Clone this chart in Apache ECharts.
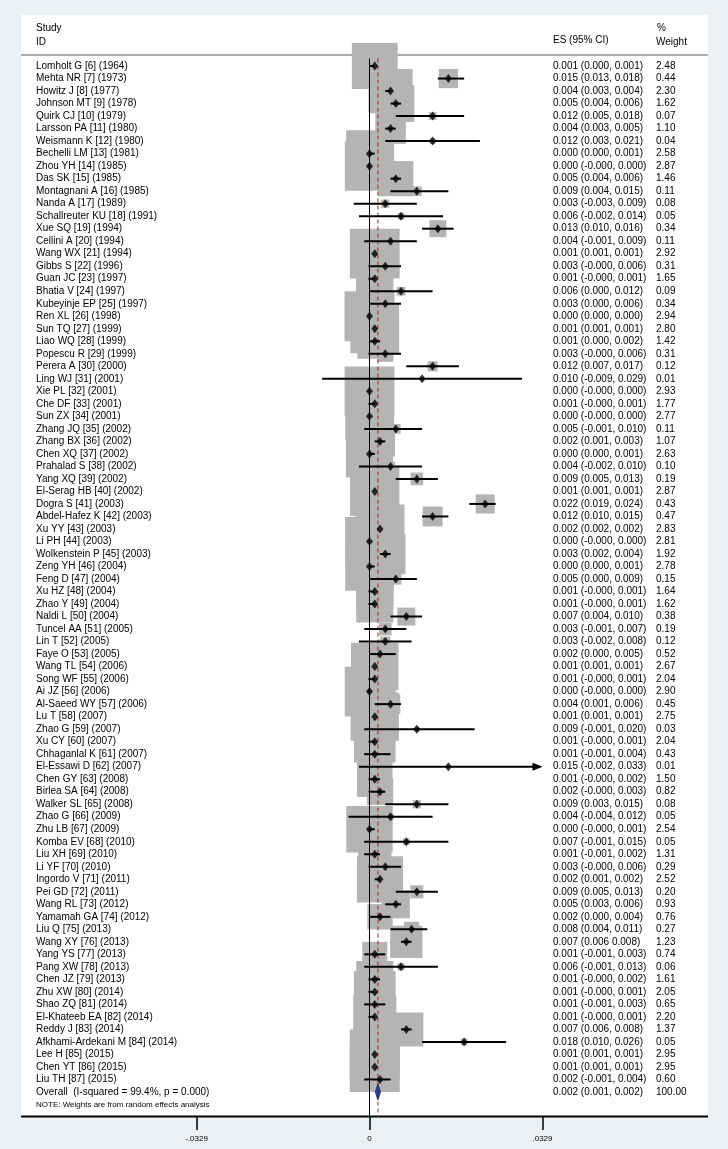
<!DOCTYPE html>
<html>
<head>
<meta charset="utf-8">
<title>Forest plot</title>
<script src="https://cdn.jsdelivr.net/npm/echarts@6/dist/echarts.min.js"></script>
<style>
  html, body { margin: 0; padding: 0; background: #eaf0f3; }
  #chart { width: 728px; height: 1149px; }
</style>
</head>
<body>
<div id="chart"></div>
<script>
const studies = [
  'Lomholt G [6] (1964)', 'Mehta NR [7] (1973)', 'Howitz J [8] (1977)', 'Johnson MT [9] (1978)',
  'Quirk CJ [10] (1979)', 'Larsson PA [11] (1980)', 'Weismann K [12] (1980)', 'Bechelli LM [13] (1981)',
  'Zhou YH [14] (1985)', 'Das SK [15] (1985)', 'Montagnani A [16] (1985)', 'Nanda A [17] (1989)',
  'Schallreuter KU [18] (1991)', 'Xue SQ [19] (1994)', 'Cellini A [20] (1994)', 'Wang WX [21] (1994)',
  'Gibbs S [22] (1996)', 'Guan JC [23] (1997)', 'Bhatia V [24] (1997)', 'Kubeyinje EP [25] (1997)',
  'Ren XL [26] (1998)', 'Sun TQ [27] (1999)', 'Liao WQ [28] (1999)', 'Popescu R [29] (1999)',
  'Perera A [30] (2000)', 'Ling WJ [31] (2001)', 'Xie PL [32] (2001)', 'Che DF [33] (2001)',
  'Sun ZX [34] (2001)', 'Zhang JQ [35] (2002)', 'Zhang BX [36] (2002)', 'Chen XQ [37] (2002)',
  'Prahalad S [38] (2002)', 'Yang XQ [39] (2002)', 'El-Serag HB [40] (2002)', 'Dogra S [41] (2003)',
  'Abdel-Hafez K [42] (2003)', 'Xu YY [43] (2003)', 'Li PH [44] (2003)', 'Wolkenstein P [45] (2003)',
  'Zeng YH [46] (2004)', 'Feng D [47] (2004)', 'Xu HZ [48] (2004)', 'Zhao Y [49] (2004)',
  'Naldi L [50] (2004)', 'Tuncel AA [51] (2005)', 'Lin T [52] (2005)', 'Faye O [53] (2005)',
  'Wang TL [54] (2006)', 'Song WF [55] (2006)', 'Ai JZ [56] (2006)', 'Al-Saeed WY [57] (2006)',
  'Lu T [58] (2007)', 'Zhao G [59] (2007)', 'Xu CY [60] (2007)', 'Chhaganlal K [61] (2007)',
  'El-Essawi D [62] (2007)', 'Chen GY [63] (2008)', 'Birlea SA [64] (2008)', 'Walker SL [65] (2008)',
  'Zhao G [66] (2009)', 'Zhu LB [67] (2009)', 'Komba EV [68] (2010)', 'Liu XH [69] (2010)',
  'Li YF [70] (2010)', 'Ingordo V [71] (2011)', 'Pei GD [72] (2011)', 'Wang RL [73] (2012)',
  'Yamamah GA [74] (2012)', 'Liu Q [75] (2013)', 'Wang XY [76] (2013)', 'Yang YS [77] (2013)',
  'Pang XW [78] (2013)', 'Chen JZ [79] (2013)', 'Zhu XW [80] (2014)', 'Shao ZQ [81] (2014)',
  'El-Khateeb EA [82] (2014)', 'Reddy J [83] (2014)', 'Afkhami-Ardekani M [84] (2014)', 'Lee H [85] (2015)',
  'Chen YT [86] (2015)', 'Liu TH [87] (2015)'
];

// effect size and 95% CI, as printed (-0.000 kept slightly below zero)
const es = [
  0.001, 0.015, 0.004, 0.005, 0.012, 0.004, 0.012, 0.000, 0.000, 0.005, 0.009, 0.003,
  0.006, 0.013, 0.004, 0.001, 0.003, 0.001, 0.006, 0.003, 0.000, 0.001, 0.001, 0.003,
  0.012, 0.010, 0.000, 0.001, 0.000, 0.005, 0.002, 0.000, 0.004, 0.009, 0.001, 0.022,
  0.012, 0.002, 0.000, 0.003, 0.000, 0.005, 0.001, 0.001, 0.007, 0.003, 0.003, 0.002,
  0.001, 0.001, 0.000, 0.004, 0.001, 0.009, 0.001, 0.001, 0.015, 0.001, 0.002, 0.009,
  0.004, 0.000, 0.007, 0.001, 0.003, 0.002, 0.009, 0.005, 0.002, 0.008, 0.007, 0.001,
  0.006, 0.001, 0.001, 0.001, 0.001, 0.007, 0.018, 0.001, 0.001, 0.002
];
const lo = [
  0.000, 0.013, 0.003, 0.004, 0.005, 0.003, 0.003, 0.000, -0.0002, 0.004, 0.004, -0.003,
  -0.002, 0.010, -0.001, 0.001, -0.0002, -0.0002, 0.000, 0.000, 0.000, 0.001, 0.000, -0.0002,
  0.007, -0.009, -0.0002, -0.0002, -0.0002, -0.001, 0.001, 0.000, -0.002, 0.005, 0.001, 0.019,
  0.010, 0.002, -0.0002, 0.002, 0.000, 0.000, -0.0002, -0.0002, 0.004, -0.001, -0.002, 0.000,
  0.001, -0.0002, -0.0002, 0.001, 0.001, -0.001, -0.0002, -0.001, -0.002, -0.0002, -0.0002, 0.003,
  -0.004, -0.0002, -0.001, -0.001, -0.0002, 0.001, 0.005, 0.003, 0.000, 0.004, 0.006, -0.001,
  -0.001, -0.0002, -0.0002, -0.001, -0.0002, 0.006, 0.010, 0.001, 0.001, -0.001
];
const hi = [
  0.001, 0.018, 0.004, 0.006, 0.018, 0.005, 0.021, 0.001, 0.000, 0.006, 0.015, 0.009,
  0.014, 0.016, 0.009, 0.001, 0.006, 0.001, 0.012, 0.006, 0.000, 0.001, 0.002, 0.006,
  0.017, 0.029, 0.000, 0.001, 0.000, 0.010, 0.003, 0.001, 0.010, 0.013, 0.001, 0.024,
  0.015, 0.002, 0.000, 0.004, 0.001, 0.009, 0.001, 0.001, 0.010, 0.007, 0.008, 0.005,
  0.001, 0.001, 0.000, 0.006, 0.001, 0.020, 0.001, 0.004, 0.033, 0.002, 0.003, 0.015,
  0.012, 0.001, 0.015, 0.002, 0.006, 0.002, 0.013, 0.006, 0.004, 0.011, 0.008, 0.003,
  0.013, 0.002, 0.001, 0.003, 0.001, 0.008, 0.026, 0.001, 0.001, 0.004
];
const ciText = [
  '0.001 (0.000, 0.001)', '0.015 (0.013, 0.018)', '0.004 (0.003, 0.004)', '0.005 (0.004, 0.006)',
  '0.012 (0.005, 0.018)', '0.004 (0.003, 0.005)', '0.012 (0.003, 0.021)', '0.000 (0.000, 0.001)',
  '0.000 (-0.000, 0.000)', '0.005 (0.004, 0.006)', '0.009 (0.004, 0.015)', '0.003 (-0.003, 0.009)',
  '0.006 (-0.002, 0.014)', '0.013 (0.010, 0.016)', '0.004 (-0.001, 0.009)', '0.001 (0.001, 0.001)',
  '0.003 (-0.000, 0.006)', '0.001 (-0.000, 0.001)', '0.006 (0.000, 0.012)', '0.003 (0.000, 0.006)',
  '0.000 (0.000, 0.000)', '0.001 (0.001, 0.001)', '0.001 (0.000, 0.002)', '0.003 (-0.000, 0.006)',
  '0.012 (0.007, 0.017)', '0.010 (-0.009, 0.029)', '0.000 (-0.000, 0.000)', '0.001 (-0.000, 0.001)',
  '0.000 (-0.000, 0.000)', '0.005 (-0.001, 0.010)', '0.002 (0.001, 0.003)', '0.000 (0.000, 0.001)',
  '0.004 (-0.002, 0.010)', '0.009 (0.005, 0.013)', '0.001 (0.001, 0.001)', '0.022 (0.019, 0.024)',
  '0.012 (0.010, 0.015)', '0.002 (0.002, 0.002)', '0.000 (-0.000, 0.000)', '0.003 (0.002, 0.004)',
  '0.000 (0.000, 0.001)', '0.005 (0.000, 0.009)', '0.001 (-0.000, 0.001)', '0.001 (-0.000, 0.001)',
  '0.007 (0.004, 0.010)', '0.003 (-0.001, 0.007)', '0.003 (-0.002, 0.008)', '0.002 (0.000, 0.005)',
  '0.001 (0.001, 0.001)', '0.001 (-0.000, 0.001)', '0.000 (-0.000, 0.000)', '0.004 (0.001, 0.006)',
  '0.001 (0.001, 0.001)', '0.009 (-0.001, 0.020)', '0.001 (-0.000, 0.001)', '0.001 (-0.001, 0.004)',
  '0.015 (-0.002, 0.033)', '0.001 (-0.000, 0.002)', '0.002 (-0.000, 0.003)', '0.009 (0.003, 0.015)',
  '0.004 (-0.004, 0.012)', '0.000 (-0.000, 0.001)', '0.007 (-0.001, 0.015)', '0.001 (-0.001, 0.002)',
  '0.003 (-0.000, 0.006)', '0.002 (0.001, 0.002)', '0.009 (0.005, 0.013)', '0.005 (0.003, 0.006)',
  '0.002 (0.000, 0.004)', '0.008 (0.004, 0.011)', '0.007 (0.006 0.008)', '0.001 (-0.001, 0.003)',
  '0.006 (-0.001, 0.013)', '0.001 (-0.000, 0.002)', '0.001 (-0.000, 0.001)', '0.001 (-0.001, 0.003)',
  '0.001 (-0.000, 0.001)', '0.007 (0.006, 0.008)', '0.018 (0.010, 0.026)', '0.001 (0.001, 0.001)',
  '0.001 (0.001, 0.001)', '0.002 (-0.001, 0.004)'
];
const weight = [
  2.48, 0.44, 2.30, 1.62, 0.07, 1.10, 0.04, 2.58, 2.87, 1.46, 0.11, 0.08,
  0.05, 0.34, 0.11, 2.92, 0.31, 1.65, 0.09, 0.34, 2.94, 2.80, 1.42, 0.31,
  0.12, 0.01, 2.93, 1.77, 2.77, 0.11, 1.07, 2.63, 0.10, 0.19, 2.87, 0.43,
  0.47, 2.83, 2.81, 1.92, 2.78, 0.15, 1.64, 1.62, 0.38, 0.19, 0.12, 0.52,
  2.67, 2.04, 2.90, 0.45, 2.75, 0.03, 2.04, 0.43, 0.01, 1.50, 0.82, 0.08,
  0.05, 2.54, 0.05, 1.31, 0.29, 2.52, 0.20, 0.93, 0.76, 0.27, 1.23, 0.74,
  0.06, 1.61, 2.05, 0.65, 2.20, 1.37, 0.05, 2.95, 2.95, 0.60
];

// pooled estimate (random effects)
const overallLabel = 'Overall  (I-squared = 99.4%, p = 0.000)';
const overallText = '0.002 (0.001, 0.002)';
const overallWeight = '100.00';
const overallEst = [0.0011, 0.0016, 0.0021]; // lower, estimate, upper

const xTicks = [-0.0329, 0, 0.0329];
const xMin = -0.0329, xMax = 0.0329;

const FONT = '"Liberation Sans", Arial, Helvetica, sans-serif';
const n = studies.length;
const maxW = Math.max(...weight);
const BOX = 50;

const chart = echarts.init(document.getElementById('chart'), null, { renderer: 'canvas' });

function txt(x, y, s, size) {
  return {
    type: 'text', x, y,
    style: { text: s, fill: '#000', font: `${size || 10}px ${FONT}`, align: 'left', verticalAlign: 'middle' }
  };
}

chart.setOption({
  animation: false,
  backgroundColor: '#eaf0f3',
  grid: { left: 196.5, right: 185.5, top: 16, bottom: 32 },
  xAxis: {
    type: 'value', min: xMin, max: xMax,
    axisLine: { show: false, onZero: false },
    splitLine: { show: false },
    axisTick: { show: true, customValues: xTicks, length: 13, lineStyle: { color: '#000', width: 1.5 } },
    axisLabel: {
      customValues: xTicks, margin: 18, color: '#000', fontSize: 8, fontFamily: FONT,
      formatter: v => Math.abs(v) < 1e-9 ? '0' : v.toFixed(4).replace('0.', '.')
    }
  },
  yAxis: { type: 'value', inverse: true, min: -4, max: 84, show: false },
  graphic: [
    { type: 'rect', z: -10, shape: { x: 21, y: 15, width: 687, height: 1101 }, style: { fill: '#fff' } },
    { type: 'line', shape: { x1: 21, y1: 55, x2: 708, y2: 55 }, style: { stroke: '#ababab', lineWidth: 2 } },
    { type: 'line', shape: { x1: 21, y1: 1116.5, x2: 708, y2: 1116.5 }, style: { stroke: '#000', lineWidth: 2 } },
    txt(36, 28, 'Study'), txt(36, 42, 'ID'),
    txt(553, 40, 'ES (95% CI)'),
    txt(657, 28, '%'), txt(656, 42, 'Weight'),
    txt(36, 1105, 'NOTE: Weights are from random effects analysis', 8)
  ],
  series: [
    {
      // study weight boxes
      type: 'custom', z: 2,
      data: es.map((v, i) => [v, i, weight[i]]),
      encode: { x: 0, y: 1 },
      renderItem: (params, api) => {
        const p = api.coord([api.value(0), api.value(1)]);
        const s = BOX * Math.sqrt(api.value(2) / maxW);
        return { type: 'rect', shape: { x: p[0] - s / 2, y: p[1] - s / 2, width: s, height: s }, style: { fill: '#b4b4b4' } };
      }
    },
    {
      // null line
      type: 'line', z: 3, symbol: 'none', silent: true,
      data: [[0, -0.6], [0, 84]],
      lineStyle: { color: '#000', width: 1 }
    },
    {
      // overall effect line
      type: 'line', z: 3, symbol: 'none', silent: true,
      data: [[overallEst[1], -0.6], [overallEst[1], 84]],
      lineStyle: { color: '#b0202a', width: 1, type: [4, 3] }
    },
    {
      // confidence intervals
      type: 'custom', z: 4,
      data: lo.map((v, i) => [v, hi[i], i]),
      encode: { x: [0, 1], y: 2 },
      renderItem: (params, api) => {
        const l = api.value(0), h = api.value(1), i = api.value(2);
        const cut = h > xMax;
        const a = api.coord([l, i]);
        const b = api.coord([cut ? xMax : h, i]);
        const kids = [{
          type: 'line',
          shape: { x1: a[0], y1: a[1], x2: b[0] - (cut ? 6 : 0), y2: b[1] },
          style: { stroke: '#000', lineWidth: 2 }
        }];
        if (cut) {
          kids.push({
            type: 'polygon',
            shape: { points: [[b[0], b[1]], [b[0] - 10, b[1] - 4], [b[0] - 10, b[1] + 4]] },
            style: { fill: '#000' }
          });
        }
        return { type: 'group', children: kids };
      }
    },
    {
      // point estimates
      type: 'scatter', z: 5, symbol: 'diamond', symbolSize: [7, 9],
      data: es.map((v, i) => [v, i]),
      itemStyle: { color: '#000' }
    },
    {
      // pooled diamond
      type: 'custom', z: 5,
      data: [[overallEst[0], overallEst[1], overallEst[2], n]],
      encode: { x: [0, 1, 2], y: 3 },
      renderItem: (params, api) => {
        const y = api.value(3);
        const l = api.coord([api.value(0), y]);
        const m = api.coord([api.value(1), y]);
        const r = api.coord([api.value(2), y]);
        return {
          type: 'polygon',
          shape: { points: [[l[0], l[1]], [m[0], m[1] - 8], [r[0], r[1]], [m[0], m[1] + 8]] },
          style: { fill: '#2a3a96', stroke: '#1b2466', lineWidth: 0.8 }
        };
      }
    },
    {
      // text columns
      type: 'custom', z: 6,
      data: Array.from({ length: n + 1 }, (_, i) => [0, i]),
      encode: { x: 0, y: 1 },
      renderItem: (params, api) => {
        const i = params.dataIndex;
        const y = api.coord([0, i])[1];
        const last = i === n;
        return {
          type: 'group',
          children: [
            txt(36, y, last ? overallLabel : studies[i]),
            txt(553, y, last ? overallText : ciText[i]),
            txt(656, y, last ? overallWeight : weight[i].toFixed(2))
          ]
        };
      }
    }
  ]
});
</script>
</body>
</html>
